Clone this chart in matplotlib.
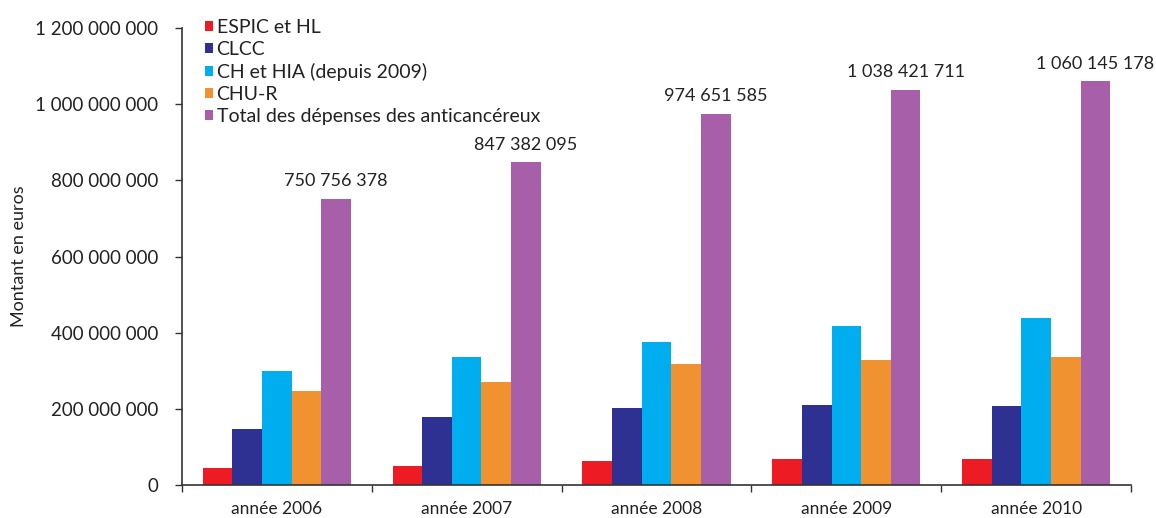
import matplotlib
matplotlib.use("Agg")
from matplotlib import pyplot as plt
from matplotlib.ticker import FuncFormatter, FixedLocator
import numpy as np

plt.rcParams['font.family'] = ['Lato', 'DejaVu Sans']

years = ['année 2006', 'année 2007', 'année 2008', 'année 2009', 'année 2010']
series_names = ['ESPIC et HL', 'CLCC', 'CH et HIA (depuis 2009)', 'CHU-R',
                'Total des dépenses des anticancéreux']
espic = [46e6, 51e6, 64e6, 70e6, 70e6]
clcc = [149e6, 179e6, 204e6, 212e6, 209e6]
ch_hia = [300e6, 337e6, 377e6, 417e6, 438e6]
chu = [247e6, 272e6, 319e6, 329e6, 336e6]
total = [750756378, 847382095, 974651585, 1038421711, 1060145178]
colors = ['#ED1C24', '#2E3192', '#00AEEF', '#F0922F', '#A65FA8']

def spaced(v, pos=None):
    return f"{int(round(v)):,}".replace(",", " ")

fig = plt.figure(figsize=(11.56, 5.18), dpi=100)
ax = fig.add_axes([0.1574, 0.0631, 0.8210, 0.8829])

x = np.arange(len(years))
w = 0.156
all_series = [espic, clcc, ch_hia, chu, total]
for i, (vals, name, c) in enumerate(zip(all_series, series_names, colors)):
    ax.bar(x + (i - 2) * w, vals, width=w, color=c, label=name, linewidth=0)

for xi, t in zip(x, total):
    ax.annotate(spaced(t), (xi + 2 * w, t), xytext=(0, 7), textcoords='offset points',
                ha='center', va='bottom', fontsize=13, color='#222222')

ax.set_xlim(-0.5, len(years) - 0.5)
ax.set_ylim(0, 1.2e9)
ax.set_yticks(np.arange(0, 1.2e9 + 1, 2e8))
ax.yaxis.set_major_formatter(FuncFormatter(spaced))
ax.xaxis.set_major_locator(FixedLocator(np.arange(-0.5, len(years), 1.0)))
ax.xaxis.set_major_formatter(FuncFormatter(lambda v, p: ''))
ax.set_xticks(x, minor=True)
ax.set_xticklabels(years, minor=True)
ax.tick_params(axis='x', which='minor', length=0, labelsize=12.5, pad=11, labelcolor='#222222')
ax.tick_params(axis='x', which='major', length=5, width=1, color='#333333', direction='out')
ax.tick_params(axis='y', length=5, width=1, color='#333333', labelsize=13.5, pad=12,
               labelcolor='#222222')

for s in ['top', 'right']:
    ax.spines[s].set_visible(False)
for s in ['left', 'bottom']:
    ax.spines[s].set_color('#333333')
    ax.spines[s].set_linewidth(1.2)

ax.set_ylabel('Montant en euros', fontsize=13, color='#222222', labelpad=6)

ax.legend(loc='upper left', bbox_to_anchor=(0.016, 1.0375), frameon=False, fontsize=14,
          handlelength=0.4, handleheight=0.4, handletextpad=0.2, labelspacing=0.26,
          borderaxespad=0, labelcolor='#222222')

fig.savefig('out.png', dpi=100)
